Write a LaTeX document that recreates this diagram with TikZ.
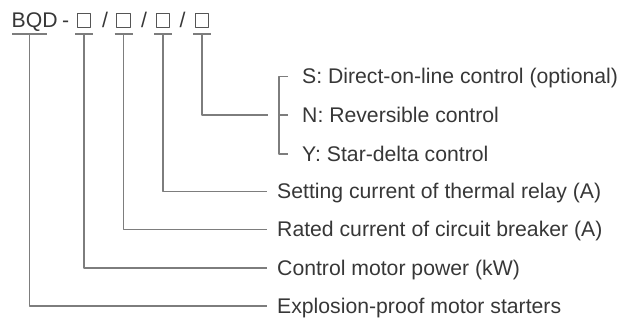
\documentclass[tikz,border=0pt]{standalone}
\usepackage{fontspec}
\setmainfont{Liberation Sans}
\definecolor{txt}{RGB}{55,55,55}
\definecolor{ln}{RGB}{125,125,125}
\tikzset{
  lbl/.style={anchor=west,inner sep=0pt,text height=14.8pt,text depth=0pt,
    text=txt,font=\fontsize{21.2}{25}\selectfont},
  lead/.style={draw=ln,line width=1.2pt},
  slot/.style={draw=txt!85,line width=0.9pt,minimum size=13.5pt,inner sep=0pt}
}
\begin{document}
\begin{tikzpicture}[x=1pt,y=-1pt,line join=round]
  \useasboundingbox (0,0) rectangle (623,320);
  % model code
  \node[lbl] (bqd) at (11.5,20.5) {BQD};
  \node[lbl] (dash) at (62,20.5) {-};
  \node[lbl] (sl1) at (102,20.5) {/};
  \node[lbl] (sl2) at (141,20.5) {/};
  \node[lbl] (sl3) at (179.5,20.5) {/};
  \coordinate (u0) at (29.5,34);
  \draw[lead] (12,34) -- (47,34);
  \foreach \k/\x in {1/84,2/123.5,3/163,4/202}{
    \node[slot] (b\k) at (\x,20.5) {};
    \coordinate (u\k) at (\x,34);
    \draw[lead] (\x-9,34) -- (\x+9,34);
  }
  % meanings
  \node[lbl] (l0) at (277,306) {Explosion-proof motor starters};
  \node[lbl] (l1) at (277,268) {Control motor power (kW)};
  \node[lbl] (l2) at (277,229.5) {Rated current of circuit breaker (A)};
  \node[lbl] (l3) at (277,191.5) {Setting current of thermal relay (A)};
  \node[lbl] (ls) at (302,76.5) {S: Direct-on-line control (optional)};
  \node[lbl] (ln) at (302,115) {N: Reversible control};
  \node[lbl] (ly) at (302,154) {Y: Star-delta control};
  \foreach \k in {0,...,3}
    \draw[lead,shorten >=10pt] (u\k) |- (l\k.west);
  \draw[lead,shorten >=34pt] (u4) |- (ln.west);
  % bracket
  \draw[lead] ([xshift=-14pt]ls.west) -- ++(-9,0) |- ([xshift=-14pt]ly.west);
  \draw[lead] ([xshift=-14pt]ln.west) -- ++(-9,0);
\end{tikzpicture}
\end{document}
